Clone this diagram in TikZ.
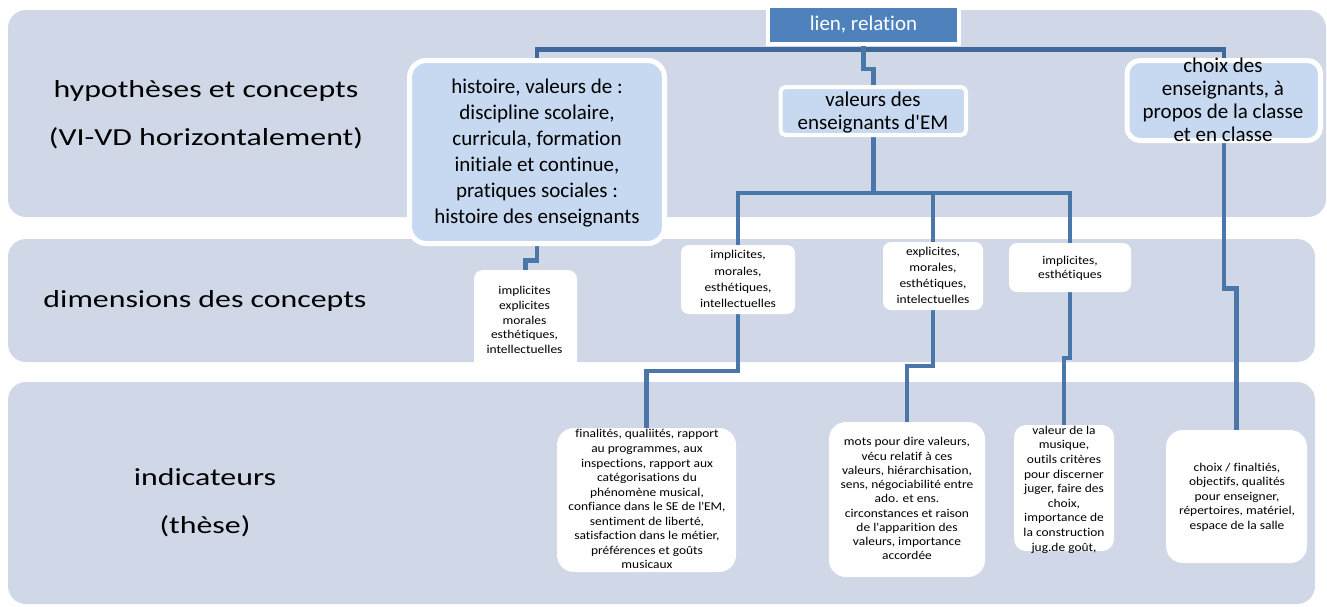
\documentclass[tikz,border=0pt]{standalone}
\usepackage{fontspec}
\setmainfont[Ligatures={NoCommon}]{Carlito}
\newfontfamily\lblfont[FakeStretch=1.3,Ligatures={NoCommon}]{Carlito}
\newfontfamily\smallfont[FakeStretch=1.12,Ligatures={NoCommon}]{Carlito}
\definecolor{bandcol}{RGB}{208,216,232}
\definecolor{lightbox}{RGB}{198,217,240}
\definecolor{darkbox}{RGB}{79,129,189}
\definecolor{conncol}{RGB}{74,118,170}
\definecolor{conntopcol}{RGB}{63,104,155}
\pgfdeclarelayer{bg}
\pgfdeclarelayer{mid}
\pgfsetlayers{bg,mid,main}
\tikzset{
  bandbox/.style={fill=bandcol, draw=none, rounded corners=18pt},
  connline/.style={draw=conncol, line width=4.5pt},
  conntop/.style={draw=conntopcol, line width=4.5pt},
  bluebox/.style={rectangle, fill=lightbox, draw=white, inner sep=0pt},
  whitebox/.style={rectangle, fill=white, draw=none, inner sep=0pt},
  lbl/.style={font=\lblfont\fontsize{24.5}{48}\selectfont, align=center, inner sep=0pt},
  bigtxt/.style={font=\fontsize{21}{23}\selectfont, align=center, inner sep=0pt},
  smalltxt/.style={font=\smallfont\fontsize{12}{#1}\selectfont, align=center, inner sep=0pt},
}
\begin{document}
\begin{tikzpicture}[x=1pt, y=-1pt]
\useasboundingbox (0,0) rectangle (1327,606);
% bands
\begin{pgfonlayer}{bg}
\path[bandbox] (8,10) rectangle (1326,217);
\path[bandbox] (8,239) rectangle (1315,362);
\path[bandbox] (8,382) rectangle (1315,604);
\end{pgfonlayer}
% row labels
\node[lbl] (lhyp) at (206,114.5) {hypothèses et concepts\\(VI-VD horizontalement)};
\node[lbl] (ldim) at (205,301) {dimensions des concepts};
\node[lbl] (lind) at (205,503) {indicateurs\\(thèse)};
% top row boxes
\node[rectangle, fill=darkbox, draw=white, line width=4pt, minimum width=191pt, minimum height=38pt, inner sep=0pt] (lien) at (863.5,25) {};
\node[bluebox, line width=5pt, rounded corners=17pt, minimum width=255pt, minimum height=183pt] (hist) at (537,152) {};
\node[bluebox, line width=4pt, rounded corners=5pt, minimum width=185.5pt, minimum height=48pt] (val) at (873.25,111) {};
\node[bluebox, line width=5pt, rounded corners=13pt, minimum width=193.5pt, minimum height=80pt] (choix) at (1223.75,100.5) {};
% second row boxes
\node[whitebox, rounded corners=9pt, minimum width=103pt, minimum height=100pt] (c0) at (525.5,320) {};
\node[whitebox, rounded corners=8pt, minimum width=114pt, minimum height=69pt] (c1) at (738,279.5) {};
\node[whitebox, rounded corners=8pt, minimum width=100pt, minimum height=68pt] (c2) at (933,276) {};
\node[whitebox, rounded corners=8pt, minimum width=122pt, minimum height=49pt] (c3) at (1070,267.5) {};
% third row boxes
\node[whitebox, rounded corners=17pt, minimum width=179pt, minimum height=144pt] (d1) at (646.5,500) {};
\node[whitebox, rounded corners=17pt, minimum width=156pt, minimum height=155pt] (d2) at (907,499.5) {};
\node[whitebox, rounded corners=12pt, minimum width=100pt, minimum height=126pt] (d3) at (1064,488) {};
\node[whitebox, rounded corners=17pt, minimum width=141pt, minimum height=133pt] (d4) at (1236.5,496.5) {};
% connectors
\begin{pgfonlayer}{mid}
\draw[conntop] (hist.north) -- ++(0,-8.5) -| (choix.north);
\draw[connline] (lien.south) -- ++(0,23) -| (val.north);
\draw[connline] (val.south) -- ++(0,56) -| (c1.north);
\draw[connline] (val.south) -- ++(0,56) -| (c2.north);
\draw[connline] (val.south) -- ++(0,56) -| (c3.north);
\draw[connline] (hist.south) -- ++(0,14.5) -| (c0.north);
\draw[connline] (c1.south) -- ++(0,57) -| (d1.north);
\draw[connline] (c2.south) -- ++(0,56) -| (d2.north);
\draw[connline] (c3.south) -- ++(0,66) -| (d3.north);
\draw[connline] (choix.south) -- ++(0,145.5) -| (d4.north);
\end{pgfonlayer}
% texts
\node[bigtxt, text=white] (tlien) at (863.5,25) {lien, relation};
\node[bigtxt, font=\fontsize{21}{26}\selectfont] (thist) at (537,152.75) {histoire, valeurs de :\\discipline scolaire,\\curricula, formation\\initiale et continue,\\pratiques sociales :\\histoire des enseignants};
\node[bigtxt] (tval) at (873,112.25) {valeurs des\\enseignants d\textquotesingle EM};
\node[bigtxt] (tchoix) at (1223,100.2) {choix des\\enseignants, à\\propos de la classe\\et en classe};
\node[smalltxt=14.75] (tc0) at (524.5,320) {implicites\\explicites\\morales\\esthétiques,\\intellectuelles};
\node[smalltxt=16.3] (tc1) at (738,279.3) {implicites,\\morales,\\esthétiques,\\intellectuelles};
\node[smalltxt=16] (tc2) at (933,275.8) {explicites,\\morales,\\esthétiques,\\intelectuelles};
\node[smalltxt=13.5] (tc3) at (1070,268.5) {implicites,\\esthétiques};
\node[smalltxt=14.56] (td1) at (647,499.3) {finalités, qualiités, rapport\\au programmes, aux\\inspections, rapport aux\\catégorisations du\\phénomène musical,\\confiance dans le SE de l\textquotesingle EM,\\sentiment de liberté,\\satisfaction dans le métier,\\préférences et goûts\\musicaux};
\node[smalltxt=14.25] (td2) at (907,498.8) {mots pour dire valeurs,\\vécu relatif à ces\\valeurs, hiérarchisation,\\sens, négociabilité entre\\ado. et ens.\\circonstances et raison\\de l\textquotesingle apparition des\\valeurs, importance\\accordée};
\node[smalltxt=14.6] (td3) at (1064,489.5) {valeur de la\\musique,\\outils critères\\pour discerner\\juger, faire des\\choix,\\importance de\\la construction\\jug.de goût,};
\node[smalltxt=14.5] (td4) at (1237,497) {choix / finaltiés,\\objectifs, qualités\\pour enseigner,\\répertoires, matériel,\\espace de la salle};
\end{tikzpicture}
\end{document}
